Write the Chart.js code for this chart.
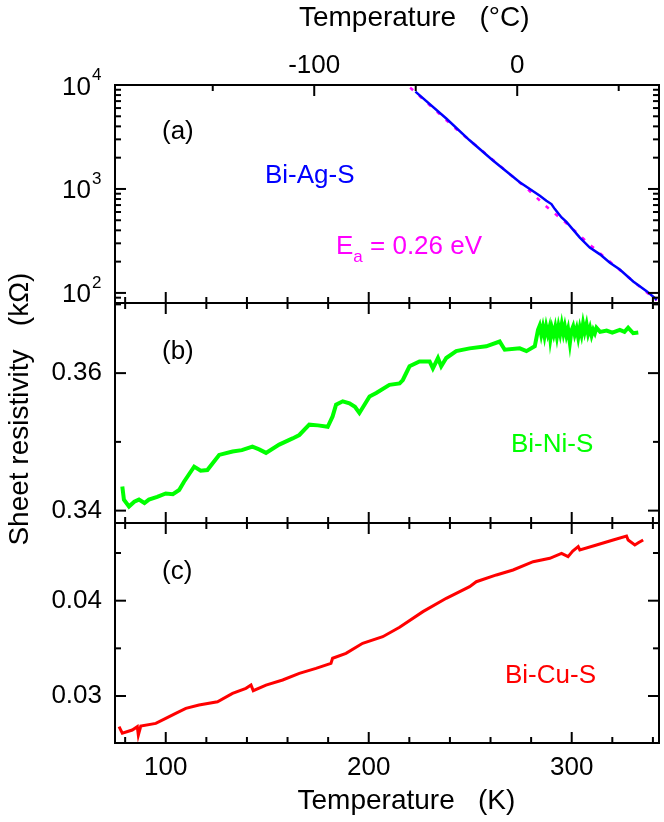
<!DOCTYPE html>
<html>
<head>
<meta charset="utf-8">
<script src="https://cdn.jsdelivr.net/npm/chart.js@4.4.1/dist/chart.umd.min.js"></script>
<style>
  html, body { margin: 0; padding: 0; background: #fff; }
  #wrap { position: relative; width: 664px; height: 822px; }
  #wrap canvas { position: absolute; left: 0; top: 0; }
</style>
</head>
<body>
<div id="wrap">
  <canvas id="panelA" width="664" height="822"></canvas>
  <canvas id="panelB" width="664" height="822"></canvas>
  <canvas id="panelC" width="664" height="822"></canvas>
</div>
<script>
// (a) Bi-Ag-S, sheet resistivity in kOhm (log axis)
const agTemp = [223.0, 238.2, 249.7, 261.2, 274.4, 284.3, 287.5, 290.0, 291.7, 295.0, 297.4, 304.0, 308.9, 313.9, 318.8, 323.7, 330.3, 336.9, 341.9];
const agRes = [8630, 4764, 2938, 1879, 1161, 861, 771, 716, 640, 532, 482, 340, 273, 235, 195, 168, 129, 104, 86];
// activation energy fit (dashed)
const fitTemp = [220.4, 242.8, 256.3, 278.5, 287.1, 296.6, 309.8, 322.9, 335.2, 341.9];
const fitRes = [9441, 3811, 2296, 984, 689, 482, 282, 171, 108, 85];

// (b) Bi-Ni-S
const niTemp = [78.6, 79.4, 81.9, 84.5, 86.8, 89.5, 91.7, 95.8, 100.0, 103.5, 106.6, 109.0, 114.0, 117.2, 120.5, 126.3, 132.9, 137.5, 142.7, 146.0, 149.4, 155.9, 162.5, 165.8, 170.7, 175.0, 179.8, 182.2, 183.9, 187.2, 190.5, 193.2, 195.4, 197.9, 200.4, 203.7, 210.2, 215.2, 216.8, 220.1, 225.0, 230.0, 231.6, 234.1, 235.7, 238.2, 243.1, 249.7, 257.9, 264.5, 267.0, 274.4, 277.7, 281.8,
  283.4, 284.2, 285.0, 285.8, 286.6, 287.4, 288.2, 289.0, 289.5, 290.3, 291.1, 291.9, 292.7, 293.5, 294.3, 295.1, 295.9, 296.6, 297.4, 298.2, 299.1, 299.9, 300.7, 301.5, 302.4, 303.2, 304.0, 304.8, 305.6, 306.4, 307.3, 308.1, 309.0, 309.8, 310.6, 311.4, 312.2, 314.0, 317.2, 320.0, 323.7, 326.0, 327.8, 330.3, 332.8];
const niRes = [0.3435, 0.3416, 0.3406, 0.3413, 0.3416, 0.3411, 0.3416, 0.3420, 0.3425, 0.3424, 0.3430, 0.3442, 0.3464, 0.3458, 0.3459, 0.3481, 0.3486, 0.3488, 0.3493, 0.3489, 0.3484, 0.3496, 0.3505, 0.3510, 0.3525, 0.3524, 0.3522, 0.3537, 0.3554, 0.3559, 0.3556, 0.3551, 0.3542, 0.3554, 0.3566, 0.3571, 0.3583, 0.3585, 0.3590, 0.3610, 0.3617, 0.3617, 0.3607, 0.3622, 0.3610, 0.3622, 0.3632, 0.3636, 0.3639, 0.3646, 0.3634, 0.3636, 0.3632, 0.3639,
  0.3663, 0.3669, 0.3656, 0.3667, 0.3654, 0.3668, 0.3657, 0.3666, 0.3650, 0.3665, 0.3656, 0.3667, 0.3653, 0.3668, 0.3657, 0.3671, 0.3658, 0.3668, 0.3655, 0.3664, 0.3644, 0.3662, 0.3668, 0.3656, 0.3665, 0.3652, 0.3666, 0.3656, 0.3672, 0.3660, 0.3671, 0.3657, 0.3666, 0.3655, 0.3663, 0.3658, 0.3666, 0.3660, 0.3662, 0.3659, 0.3663, 0.3660, 0.3666, 0.3658, 0.3659];

// (c) Bi-Cu-S
const cuTemp = [77.0, 78.6, 83.5, 86.0, 86.5, 87.7, 95.1, 100.0, 104.9, 109.9, 116.4, 125.5, 132.9, 139.5, 142.0, 143.1, 149.4, 157.6, 165.8, 174.0, 181.4, 182.2, 188.8, 197.0, 206.9, 215.2, 226.7, 238.2, 249.7, 253.0, 262.9, 271.1, 281.0, 289.2, 295.0, 298.2, 300.5, 303.2, 304.0, 312.2, 320.4, 327.0, 327.8, 331.1, 333.0, 335.2];
const cuRes = [0.02678, 0.02609, 0.02643, 0.02678, 0.0259, 0.02685, 0.02713, 0.02766, 0.02818, 0.02871, 0.02906, 0.0294, 0.03028, 0.03081, 0.03115, 0.03056, 0.03115, 0.03168, 0.03238, 0.0329, 0.03343, 0.03396, 0.03448, 0.03553, 0.03622, 0.03722, 0.03885, 0.04025, 0.04147, 0.04199, 0.0427, 0.04322, 0.04409, 0.04445, 0.04497, 0.04462, 0.0452, 0.04567, 0.04532, 0.04584, 0.04637, 0.04679, 0.04637, 0.04584, 0.0461, 0.04637];

// axis ticks
const kLabels = [100, 200, 300];
const kMinor = [80, 120, 140, 160, 180, 220, 240, 260, 280, 320, 340];
const cLabels = [-100, 0];
const cMinor = [-150, -50, 50];
const logLabels = [100, 1000, 10000];
const logMinor = [80, 90, 200, 300, 400, 500, 600, 700, 800, 900, 2000, 3000, 4000, 5000, 6000, 7000, 8000, 9000];
const niLabels = [0.34, 0.36];
const niMinor = [0.35, 0.37];
const cuLabels = [0.03, 0.04];
const cuMinor = [0.035, 0.045];

const FONT = "'Liberation Sans', Arial, sans-serif";
Chart.defaults.font.family = FONT;
Chart.defaults.color = "#000";

const T_MIN = 75, T_MAX = 343;
const MAJOR = 11, MINOR = 6;

function pts(xs, ys) {
  return xs.map((x, i) => ({ x: x, y: ys[i] }));
}

function xTicks(ctx, scale, values, y, len) {
  values.forEach((v) => {
    const px = scale.getPixelForValue(v);
    ctx.beginPath();
    ctx.moveTo(px, y);
    ctx.lineTo(px, y + len);
    ctx.stroke();
  });
}

function yTicks(ctx, scale, values, x, len) {
  values.forEach((v) => {
    const py = scale.getPixelForValue(v);
    ctx.beginPath();
    ctx.moveTo(x, py);
    ctx.lineTo(x + len, py);
    ctx.stroke();
  });
}

function frame(ctx, a) {
  ctx.strokeRect(a.left, a.top, a.right - a.left, a.bottom - a.top);
}

function text(ctx, str, x, y, size, color) {
  ctx.font = size + "px " + FONT;
  ctx.fillStyle = color;
  ctx.textAlign = "left";
  ctx.textBaseline = "alphabetic";
  ctx.fillText(str, x, y);
  return x + ctx.measureText(str).width;
}

// shared options
const hiddenX = { type: "linear", min: T_MIN, max: T_MAX, display: false };
function yBase(min, max, labels, fmt) {
  return {
    type: "linear",
    position: "left",
    min: min,
    max: max,
    bounds: "data",
    grid: { display: false, drawTicks: false },
    border: { display: false },
    ticks: { font: { size: 26 }, padding: 13, callback: fmt },
    afterBuildTicks: (s) => { s.ticks = labels.map((v) => ({ value: v })); },
    afterFit: (s) => { s.width = 115; },
  };
}

// ---- panel (a) ----
const plugA = {
  id: "panelAMarks",
  afterDatasetsDraw(chart) {
    const ctx = chart.ctx, a = chart.chartArea;
    const x = chart.scales.x, x2 = chart.scales.x2, y = chart.scales.y;
    ctx.save();
    ctx.strokeStyle = "#000";
    ctx.lineWidth = 2;
    frame(ctx, a);
    xTicks(ctx, x2, cLabels, a.top, MAJOR);
    xTicks(ctx, x2, cMinor, a.top, MINOR);
    xTicks(ctx, x, kLabels, a.bottom, -MAJOR);
    xTicks(ctx, x, kMinor, a.bottom, -MINOR);
    yTicks(ctx, y, logLabels, a.left, MAJOR);
    yTicks(ctx, y, logMinor, a.left, MINOR);
    yTicks(ctx, y, logLabels, a.right, -MAJOR);
    yTicks(ctx, y, logMinor, a.right, -MINOR);
    // log tick labels 10^n
    logLabels.forEach((v) => {
      const py = y.getPixelForValue(v);
      ctx.font = "26px " + FONT;
      ctx.fillStyle = "#000";
      ctx.textAlign = "right";
      ctx.textBaseline = "alphabetic";
      ctx.fillText("10", 91, py + 9.5);
      ctx.font = "17px " + FONT;
      ctx.textAlign = "left";
      ctx.fillText(String(Math.round(Math.log10(v))), 92, py - 5);
    });
    text(ctx, "(a)", 162, 139, 26, "#000");
    text(ctx, "Bi-Ag-S", 265, 183, 26, "#0000FF");
    let ex = text(ctx, "E", 336, 254, 26, "#FF00FF");
    ex = text(ctx, "a", ex, 262, 17, "#FF00FF");
    text(ctx, " = 0.26 eV", ex, 254, 26, "#FF00FF");
    ctx.restore();
  },
};

new Chart(document.getElementById("panelA"), {
  type: "scatter",
  data: {
    datasets: [
      { data: pts(agTemp, agRes), showLine: true, borderColor: "#0000FF", borderWidth: 2.5, pointRadius: 0 },
      { data: pts(fitTemp, fitRes), showLine: true, borderColor: "#FF00FF", borderWidth: 2.5, borderDash: [4, 8], pointRadius: 0 },
    ],
  },
  options: {
    responsive: false,
    animation: false,
    layout: { padding: { top: 0, left: 0, right: 5, bottom: 519 } },
    plugins: { legend: { display: false }, tooltip: { enabled: false } },
    scales: {
      x: hiddenX,
      x2: {
        type: "linear",
        position: "top",
        min: T_MIN - 273.15,
        max: T_MAX - 273.15,
        bounds: "data",
        grid: { display: false, drawTicks: false },
        border: { display: false },
        ticks: { font: { size: 26 }, padding: 4, maxRotation: 0 },
        afterBuildTicks: (s) => { s.ticks = cLabels.map((v) => ({ value: v })); },
        afterFit: (s) => { s.height = 85; },
        title: {
          display: true,
          text: "       Temperature   (\u00B0C)",
          font: { size: 28 },
          padding: { top: 1, bottom: 0 },
        },
      },
      y: {
        type: "logarithmic",
        position: "left",
        min: 80,
        max: 10000,
        bounds: "data",
        grid: { display: false, drawTicks: false },
        border: { display: false },
        ticks: { display: false },
        afterFit: (s) => { s.width = 115; },
      },
    },
  },
  plugins: [plugA],
});

// ---- panel (b) ----
const plugB = {
  id: "panelBMarks",
  afterDatasetsDraw(chart) {
    const ctx = chart.ctx, a = chart.chartArea;
    const x = chart.scales.x, y = chart.scales.y;
    ctx.save();
    ctx.strokeStyle = "#000";
    ctx.lineWidth = 2;
    frame(ctx, a);
    xTicks(ctx, x, kLabels, a.top, MAJOR);
    xTicks(ctx, x, kMinor, a.top, MINOR);
    xTicks(ctx, x, kLabels, a.bottom, -MAJOR);
    xTicks(ctx, x, kMinor, a.bottom, -MINOR);
    yTicks(ctx, y, niLabels, a.left, MAJOR);
    yTicks(ctx, y, niMinor, a.left, MINOR);
    yTicks(ctx, y, niLabels, a.right, -MAJOR);
    yTicks(ctx, y, niMinor, a.right, -MINOR);
    text(ctx, "(b)", 162, 359, 26, "#000");
    text(ctx, "Bi-Ni-S", 511, 452, 26, "#00FF00");
    ctx.restore();
  },
};

const yB = yBase(0.3382, 0.3702, niLabels, (v) => v.toFixed(2));
yB.title = {
  display: true,
  text: " Sheet resistivity   (k\u03A9)",
  font: { size: 28 },
  padding: { top: 3, bottom: 0 },
};

new Chart(document.getElementById("panelB"), {
  type: "scatter",
  data: {
    datasets: [
      { data: pts(niTemp, niRes), showLine: true, borderColor: "#00FF00", borderWidth: 4, pointRadius: 0 },
    ],
  },
  options: {
    responsive: false,
    animation: false,
    layout: { padding: { top: 303, left: 0, right: 5, bottom: 299 } },
    plugins: { legend: { display: false }, tooltip: { enabled: false } },
    scales: { x: hiddenX, y: yB },
  },
  plugins: [plugB],
});

// ---- panel (c) ----
const plugC = {
  id: "panelCMarks",
  afterDatasetsDraw(chart) {
    const ctx = chart.ctx, a = chart.chartArea;
    const x = chart.scales.x, y = chart.scales.y;
    ctx.save();
    ctx.strokeStyle = "#000";
    ctx.lineWidth = 2;
    frame(ctx, a);
    xTicks(ctx, x, kLabels, a.top, MAJOR);
    xTicks(ctx, x, kMinor, a.top, MINOR);
    xTicks(ctx, x, kLabels, a.bottom, -MAJOR);
    xTicks(ctx, x, kMinor, a.bottom, -MINOR);
    yTicks(ctx, y, cuLabels, a.left, MAJOR);
    yTicks(ctx, y, cuMinor, a.left, MINOR);
    yTicks(ctx, y, cuLabels, a.right, -MAJOR);
    yTicks(ctx, y, cuMinor, a.right, -MINOR);
    text(ctx, "(c)", 162, 579, 26, "#000");
    text(ctx, "Bi-Cu-S", 505, 683, 26, "#FF0000");
    ctx.restore();
  },
};

new Chart(document.getElementById("panelC"), {
  type: "scatter",
  data: {
    datasets: [
      { data: pts(cuTemp, cuRes), showLine: true, borderColor: "#FF0000", borderWidth: 3, pointRadius: 0 },
    ],
  },
  options: {
    responsive: false,
    animation: false,
    layout: { padding: { top: 523, left: 0, right: 5, bottom: 0 } },
    plugins: { legend: { display: false }, tooltip: { enabled: false } },
    scales: {
      x: {
        type: "linear",
        position: "bottom",
        min: T_MIN,
        max: T_MAX,
        bounds: "data",
        grid: { display: false, drawTicks: false },
        border: { display: false },
        ticks: { font: { size: 26 }, padding: 9, maxRotation: 0, callback: (v) => String(v) },
        afterBuildTicks: (s) => { s.ticks = kLabels.map((v) => ({ value: v })); },
        afterFit: (s) => { s.height = 79; },
        title: {
          display: true,
          text: "     Temperature   (K)",
          font: { size: 28 },
          padding: { top: 0, bottom: 4 },
        },
      },
      y: yBase(0.02507, 0.04815, cuLabels, (v) => v.toFixed(2)),
    },
  },
  plugins: [plugC],
});
</script>
</body>
</html>
